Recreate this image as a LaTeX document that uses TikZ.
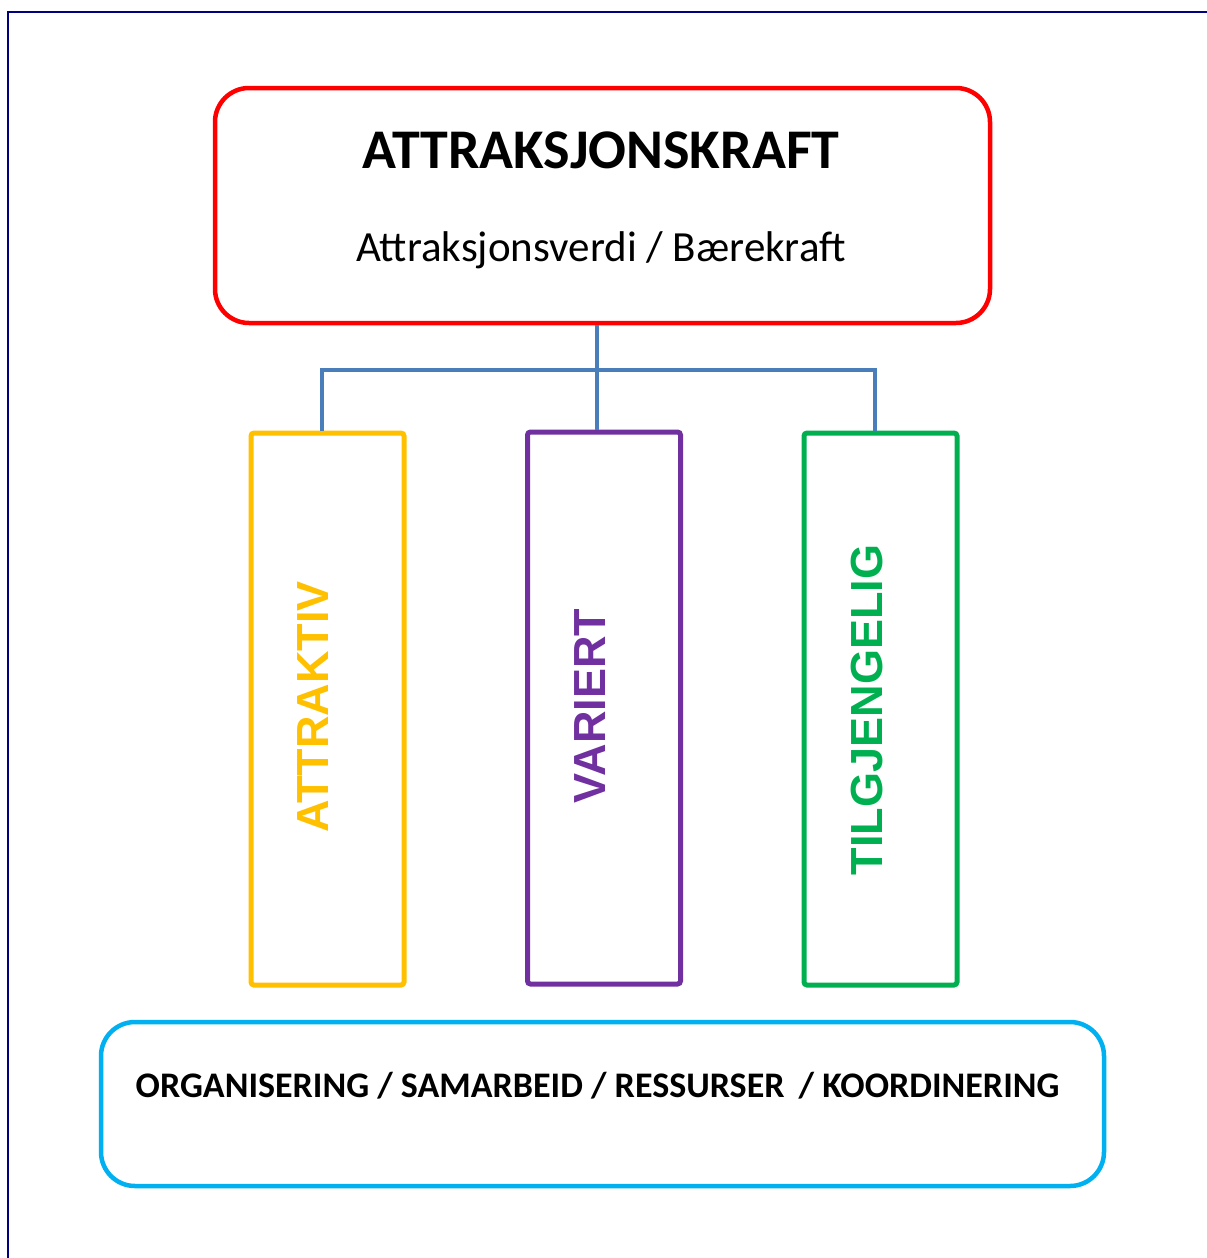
\documentclass[tikz,border=0pt]{standalone}
\usepackage{fontspec}
\setmainfont{Carlito}
\newfontfamily\colfont{Liberation Sans}
\usepackage{tikz}
\usetikzlibrary{positioning}
\usepackage{xcolor}
\definecolor{topred}{HTML}{FF0000}
\definecolor{colyellow}{HTML}{FFC000}
\definecolor{colpurple}{HTML}{7030A0}
\definecolor{colgreen}{HTML}{00B050}
\definecolor{baseblue}{HTML}{00B0F0}
\definecolor{linkblue}{HTML}{4A7EBB}
\definecolor{frameblue}{HTML}{000080}

\begin{document}
\begin{tikzpicture}[
   x=1pt,y=-1pt,
   bigbox/.style={draw,rounded corners=34pt,line width=4.5pt,inner sep=0pt},
   colbox/.style={draw,rounded corners=3pt,line width=5pt,inner sep=0pt,
                  minimum width=153pt,minimum height=552pt},
   coltext/.style={rotate=90,font=\colfont\bfseries\fontsize{45}{54}\selectfont},
   link/.style={draw=linkblue,line width=4pt}
 ]
  \useasboundingbox (0,0) rectangle (1207,1258);
  \draw[frameblue,line width=2pt] (8,1258) -- (8,12) -- (1207,12);
  % top box
  \node[bigbox,draw=topred,minimum width=775pt,minimum height=235pt] (top) at (602.5,205.5) {};
  \node[font=\bfseries\fontsize{56}{66}\selectfont] (title) at (601,150) {ATTRAKSJONSKRAFT};
  \node[font=\fontsize{43}{50}\selectfont] (subtitle) at (601,250) {Attraksjonsverdi / Bærekraft};
  % columns
  \node[colbox,draw=colyellow] (attr) at (327.5,709) {};
  \node[colbox,draw=colpurple] (vari) at (604,708) {};
  \node[colbox,draw=colgreen] (tilg) at (880.5,709) {};
  \node[coltext,text=colyellow] (attrtxt) at (313,707) {ATTRAKTIV};
  \node[coltext,text=colpurple] (varitxt) at (590,706) {VARIERT};
  \node[coltext,text=colgreen] (tilgtxt) at (867,710) {TILGJENGELIG};
  % bottom box
  \node[bigbox,draw=baseblue,minimum width=1003pt,minimum height=164pt] (base) at (602.5,1104) {};
  \node[font=\bfseries\fontsize{36}{42}\selectfont] (basetxt) at (597.5,1086)
       {ORGANISERING / SAMARBEID / RESSURSER \,/ KOORDINERING};
  % connectors
  \coordinate (bus) at (597,370);
  \draw[link] ([xshift=-5.5pt]top.south) -- ([xshift=-7pt]vari.north);
  \draw[link] ([xshift=-5.5pt]attr.north) |- (bus) -| ([xshift=-5.5pt]tilg.north);
 \end{tikzpicture}
\end{document}
